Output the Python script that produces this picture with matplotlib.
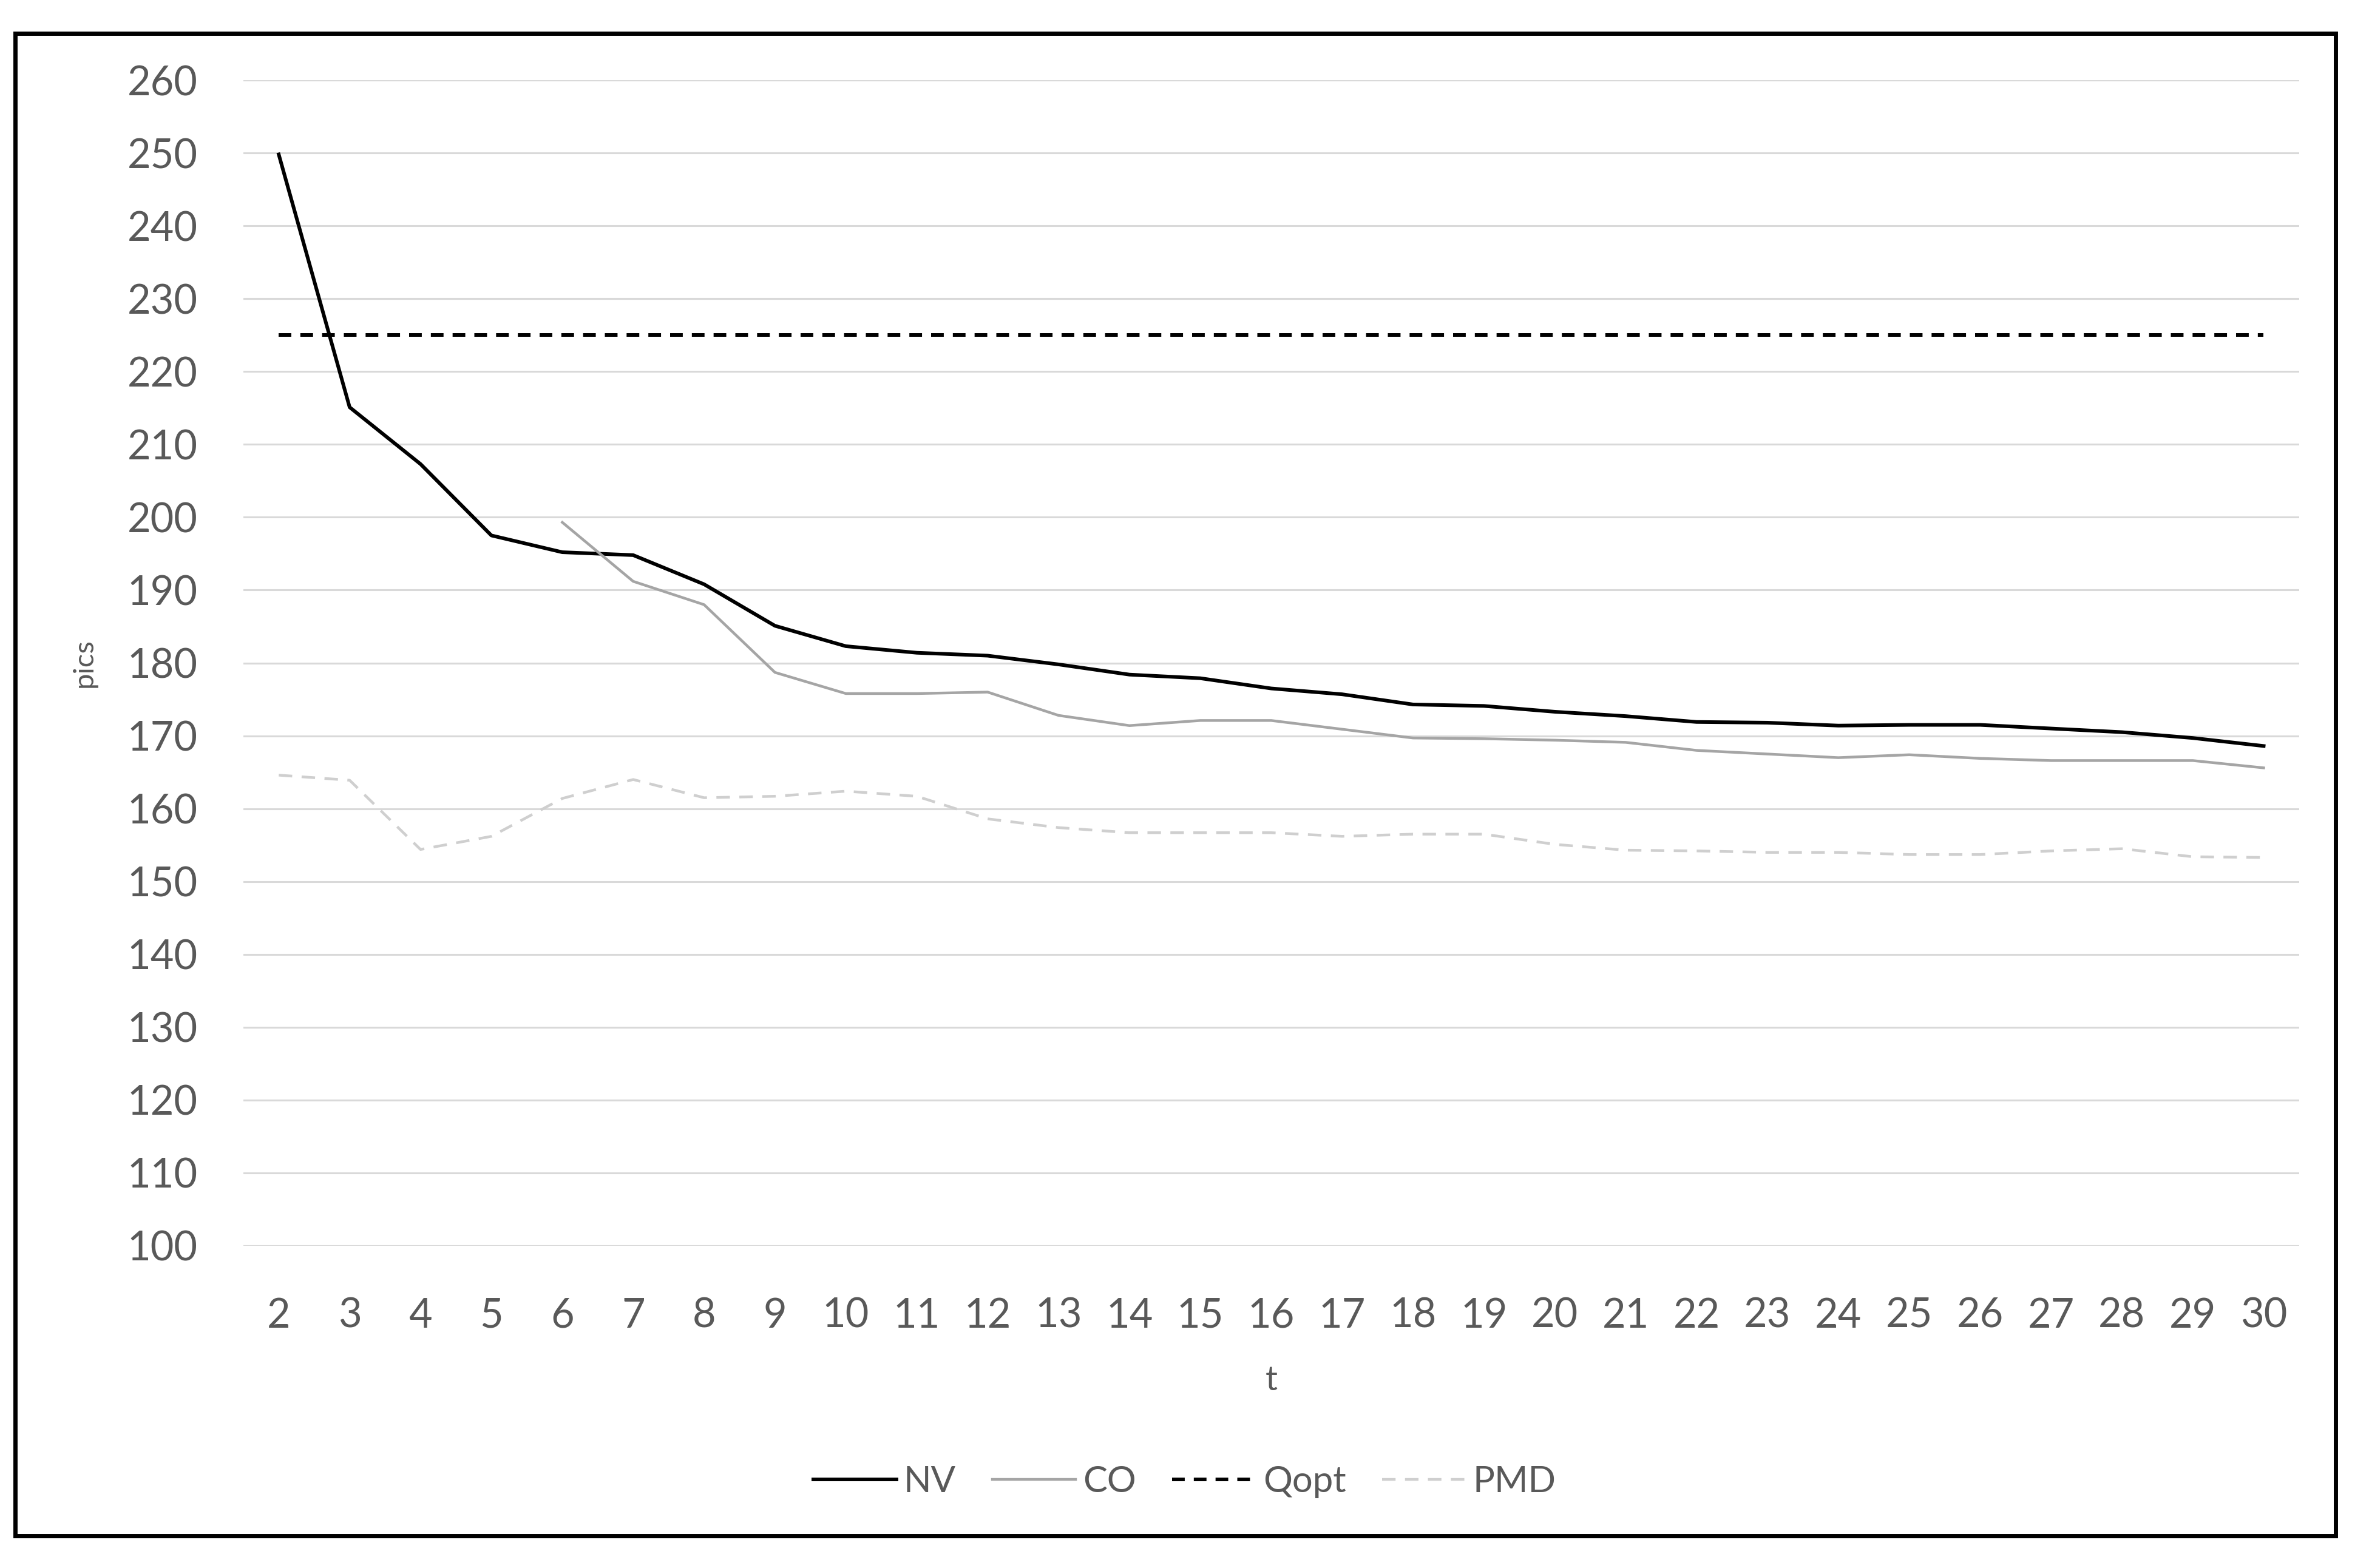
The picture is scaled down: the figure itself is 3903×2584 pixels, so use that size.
import matplotlib
matplotlib.use('Agg')
import matplotlib.pyplot as plt
from matplotlib.patches import Rectangle

# data
t = list(range(2, 31))
nv = [249.8, 215.1, 207.3, 197.5, 195.2, 194.8, 190.8, 185.1, 182.3, 181.4,
      181.0, 179.8, 178.4, 177.9, 176.5, 175.7, 174.3, 174.1, 173.3, 172.7,
      171.9, 171.8, 171.4, 171.5, 171.5, 171.0, 170.5, 169.7, 168.6]
co_t = list(range(6, 31))
co = [199.3, 191.2, 188.0, 178.7, 175.8, 175.8, 176.0, 172.8, 171.4, 172.1,
      172.1, 170.9, 169.7, 169.6, 169.4, 169.1, 168.0, 167.5, 167.0, 167.4,
      166.9, 166.6, 166.6, 166.6, 165.6]
qopt = [225] * len(t)
pmd = [164.6, 163.9, 154.4, 156.2, 161.4, 164.0, 161.5, 161.7, 162.4, 161.7,
       158.6, 157.4, 156.7, 156.7, 156.7, 156.2, 156.5, 156.5, 155.1, 154.3,
       154.2, 154.0, 154.0, 153.7, 153.7, 154.2, 154.5, 153.4, 153.3]
y_ticks = list(range(100, 261, 10))

plt.rcParams['font.family'] = ['Lato', 'DejaVu Sans']
text_col = '#595959'

fig = plt.figure(figsize=(39.03, 25.84), dpi=100)
ax = fig.add_axes([0.1027, 0.2055, 0.8678, 0.7434])

ax.plot(t, nv, color='black', lw=4.3, label='NV')
ax.plot(co_t, co, color='#a5a5a5', lw=3.2, label='CO')
ax.plot(t, qopt, color='black', lw=4.3, dashes=(3.5, 2.5), label='Qopt')
ax.plot(t, pmd, color='#cfcfcf', lw=3.2, dashes=(5, 3.5), label='PMD')

ax.set_xlim(1.5, 30.5)
ax.set_ylim(100, 260)
ax.set_yticks(y_ticks)
ax.set_xticks(t)
ax.grid(axis='y', color='#d9d9d9', lw=2.2)
ax.set_axisbelow(True)
for s in ax.spines.values():
    s.set_visible(False)
ax.tick_params(length=0, labelsize=48, labelcolor=text_col)
ax.tick_params(axis='y', pad=54)
ax.tick_params(axis='x', pad=61)
ax.set_xlabel('t', fontsize=40, color=text_col, labelpad=36)
ax.set_ylabel('pics', fontsize=34, color=text_col, labelpad=36)

fig.legend(loc='center', bbox_to_anchor=(0.5, 0.055), ncol=4, frameon=False,
           fontsize=43, handlelength=2.3, handletextpad=0.2, columnspacing=1.0,
           labelcolor=text_col)

# black frame around the whole picture
fig.patches.append(Rectangle((0.0064, 0.0205), 0.9795, 0.9582, transform=fig.transFigure,
                             fill=False, edgecolor='black', lw=5))

fig.savefig('out.png', dpi=100, facecolor='white')
